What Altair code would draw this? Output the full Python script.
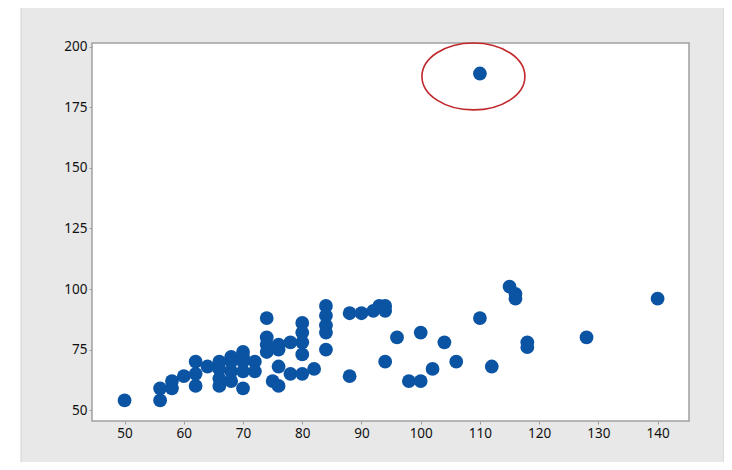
import altair as alt
import pandas as pd

# data
x_vals = [50, 56, 56, 58, 58, 60, 62, 62, 62, 64, 66, 66, 66, 66, 68, 68, 68, 68,
          70, 70, 70, 70, 70, 72, 72, 74, 74, 74, 74, 75, 76, 76, 76, 76, 78, 78,
          80, 80, 80, 80, 80, 82, 84, 84, 84, 84, 84, 88, 88, 90, 92, 93, 94, 94,
          94, 96, 98, 100, 100, 102, 104, 106, 110, 112, 110, 115, 116, 116, 118, 118,
          128, 140]
y_vals = [54, 54, 59, 62, 59, 64, 70, 60, 65, 68, 70, 60, 63, 67, 72, 62, 66, 70,
          74, 59, 66, 70, 72, 70, 66, 88, 80, 77, 74, 62, 60, 68, 77, 75, 78, 65,
          86, 82, 78, 73, 65, 67, 93, 89, 85, 82, 75, 64, 90, 90, 91, 93, 91, 93,
          70, 80, 62, 62, 82, 67, 78, 70, 88, 68, 189, 101, 98, 96, 78, 76,
          80, 96]
outlier_x = [108.9]
outlier_y = [187.8]

df = pd.DataFrame({"x": x_vals, "y": y_vals})
df_out = pd.DataFrame({"x": outlier_x, "y": outlier_y})

W, H = 597, 378
xs = alt.Scale(domain=[44.5, 145.3], nice=False, zero=False)
ys = alt.Scale(domain=[45.5, 201.6], nice=False, zero=False)

axis_common = dict(domain=False, grid=False, tickColor="#a0a0a0", tickSize=3,
                   labelFont="Noto Sans", labelFontSize=13.5, labelColor="#111111",
                   title=None, zindex=1)

gray = alt.Chart(pd.DataFrame({"a": [0]})).mark_rect(
    fill="#e8e8e8", stroke="#d2d2d2", strokeWidth=1
).encode(x=alt.value(-71), x2=alt.value(632), y=alt.value(-38), y2=alt.value(440))

white = alt.Chart(pd.DataFrame({"a": [0]})).mark_rect(
    fill="white", stroke="#a0a0a0", strokeWidth=1.5
).encode(x=alt.value(0), x2=alt.value(W), y=alt.value(0), y2=alt.value(H))

pts = alt.Chart(df).mark_circle(size=190, color="#0b54a3", opacity=1).encode(
    x=alt.X("x:Q", scale=xs, axis=alt.Axis(values=list(range(50, 141, 10)), **axis_common)),
    y=alt.Y("y:Q", scale=ys, axis=alt.Axis(values=list(range(50, 201, 25)), **axis_common)),
)

ellipse = alt.Chart(df_out).mark_point(
    shape="M-1,0 A1,0.65,0,1,1,1,0 A1,0.65,0,1,1,-1,0 Z",
    size=10600, filled=False, stroke="#c0282d", strokeWidth=1.6, opacity=1
).encode(x=alt.X("x:Q", scale=xs), y=alt.Y("y:Q", scale=ys))

chart = alt.layer(gray, white, pts, ellipse).properties(
    width=W, height=H,
    autosize=alt.AutoSizeParams(type="none"),
    padding={"left": 84, "top": 35, "right": 35, "bottom": 41},
    background="white",
).configure_view(stroke=None)

chart.save("out.html", embed_options={"renderer": "svg", "actions": False})
